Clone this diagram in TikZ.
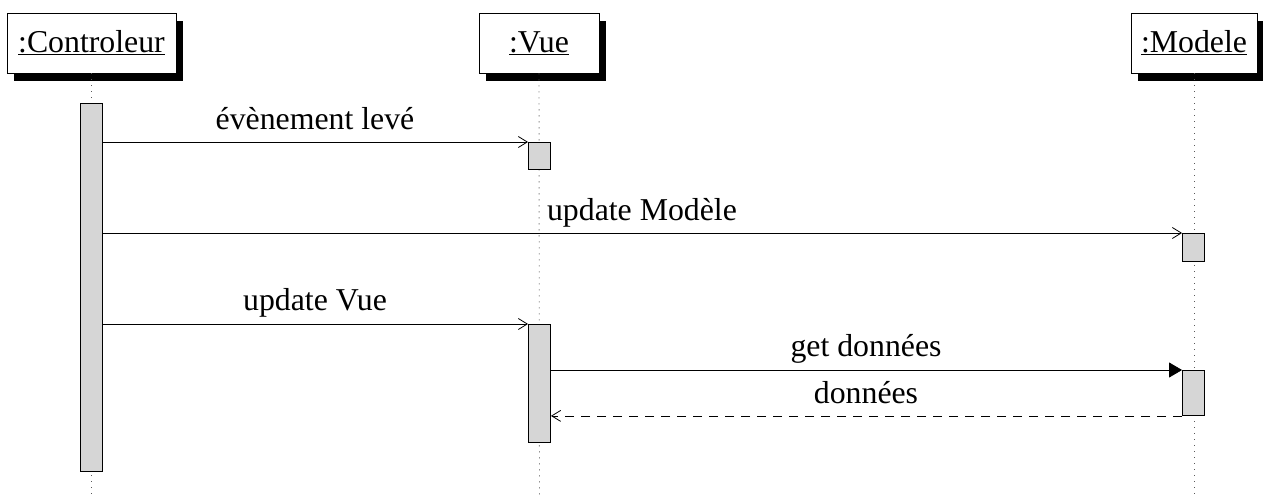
\documentclass[tikz,border=0pt]{standalone}
\usepackage{fontspec}
\setmainfont{Liberation Serif}
\usetikzlibrary{arrows.meta,shadows}
\begin{document}
\begin{tikzpicture}[x=1pt,y=-1pt,
  every node/.style={font=\fontsize{31.8}{38}\selectfont},
  objbox/.style={draw, line width=0.9pt, fill=white, inner sep=0pt, minimum height=60pt,
    drop shadow={shadow xshift=7pt, shadow yshift=-7.5pt, fill=black, opacity=1}},
  lifeline/.style={line width=0.9pt, gray!70!black, dash pattern=on 1pt off 5pt},
  actbar/.style={draw, line width=0.9pt, fill=black!16, inner sep=0pt, minimum width=22pt, anchor=north},
  msg/.style={line width=0.8pt, -{Straight Barb[length=9pt, width=11pt, line width=0.8pt]}},
  syncmsg/.style={line width=0.8pt, -{Triangle[length=13pt, width=15pt]}},
  retmsg/.style={line width=0.8pt, dash pattern=on 9pt off 7pt, -{Straight Barb[length=9pt, width=11pt, line width=0.8pt]}},
  lbl/.style={anchor=base, inner sep=0pt}]
\useasboundingbox (0,0) rectangle (1263,498);
% lifeline end points
\coordinate (cend) at (91.5,498);
\coordinate (vend) at (539.5,498);
\coordinate (mend) at (1194,498);
% objects
\path (91.5,43) node[objbox, minimum width=169pt] (ctrl) {\underline{:Controleur}};
\path (539,43) node[objbox, minimum width=120pt] (vue) {\underline{:Vue}};
\path (1194,43) node[objbox, minimum width=126pt] (mod) {\underline{:Modele}};
% lifelines
\draw[lifeline] (ctrl.south) -- (cend);
\draw[lifeline] (vue.south) -- (vend);
\draw[lifeline] (mod.south) -- (mend);
% activation bars
\node[actbar, minimum height=368pt] (cbar) at (91.5,103) {};
\node[actbar, minimum height=27pt] (vbar1) at (539.5,142) {};
\node[actbar, minimum height=28pt] (mbar1) at (1193.5,233) {};
\node[actbar, minimum height=118pt] (vbar2) at (539.5,324) {};
\node[actbar, minimum height=45pt] (mbar2) at (1193.5,370) {};
% messages
\draw[msg] (cbar.east |- vbar1.north west) -- (vbar1.north west);
\draw[msg] (cbar.east |- mbar1.north west) -- (mbar1.north west);
\draw[msg] (cbar.east |- vbar2.north west) -- (vbar2.north west);
\draw[syncmsg] (vbar2.east |- mbar2.north west) -- (mbar2.north west);
\draw[retmsg] (mbar2.south west) -- (vbar2.east |- mbar2.south west);
% labels
\node[lbl] (l1) at (315,129) {évènement levé};
\node[lbl] (l2) at (642,220) {update Modèle};
\node[lbl] (l3) at (315,310) {update Vue};
\node[lbl] (l4) at (866,356) {get données};
\node[lbl] (l5) at (866,403) {données};
\end{tikzpicture}
\end{document}
